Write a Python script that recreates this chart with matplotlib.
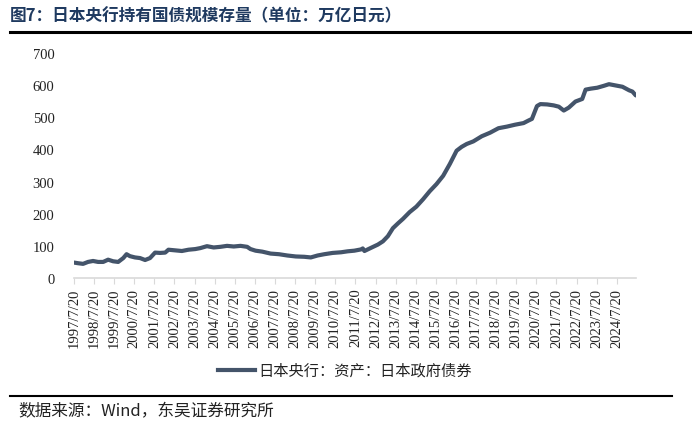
import pandas as pd
import matplotlib
matplotlib.use("Agg")
import matplotlib.pyplot as plt
from matplotlib.lines import Line2D

plt.rcParams['font.family'] = ['Noto Sans CJK SC', 'DejaVu Sans']

# 日本央行持有国债规模（万亿日元）
dates = ["1997-07-20", "1997-10-01", "1998-01-01", "1998-04-01", "1998-07-01", "1998-10-01",
         "1999-01-01", "1999-04-01", "1999-07-01", "1999-10-01", "2000-01-01", "2000-03-01",
         "2000-05-01", "2000-08-01", "2000-11-01", "2001-02-01", "2001-05-01", "2001-08-01",
         "2001-11-01", "2002-02-01", "2002-04-01", "2002-08-01", "2002-12-01", "2003-04-01",
         "2003-08-01", "2003-11-01", "2004-03-01", "2004-07-01", "2004-11-01", "2005-03-01",
         "2005-07-01", "2005-11-01", "2006-03-01", "2006-05-01", "2006-08-01", "2006-12-01",
         "2007-05-01", "2007-10-01", "2008-03-01", "2008-08-01", "2009-01-01", "2009-05-01",
         "2009-09-01", "2010-01-01", "2010-06-01", "2010-11-01", "2011-03-01", "2011-07-01",
         "2011-11-01", "2011-12-01", "2012-01-01", "2012-05-01", "2012-09-01", "2012-12-01",
         "2013-03-01", "2013-06-01", "2013-09-01", "2013-12-01", "2014-04-01", "2014-08-01",
         "2014-12-01", "2015-04-01", "2015-08-01", "2015-12-01", "2016-04-01", "2016-08-01",
         "2016-11-01", "2017-02-01", "2017-06-01", "2017-11-01", "2018-04-01", "2018-09-01",
         "2019-02-01", "2019-07-01", "2019-12-01", "2020-03-01", "2020-05-01", "2020-08-01",
         "2020-10-01", "2021-02-01", "2021-06-01", "2021-09-01", "2021-12-01", "2022-03-01",
         "2022-07-01", "2022-11-01", "2023-01-01", "2023-04-01", "2023-08-01", "2023-12-01",
         "2024-03-01", "2024-07-01", "2024-11-01", "2025-03-01", "2025-05-01", "2025-07-01"]
values = [48, 46, 44, 50, 53, 50,
          50, 57, 52, 50, 62, 74,
          68, 64, 62, 56, 62, 79,
          78, 79, 88, 86, 84, 88,
          90, 93, 99, 95, 97, 100,
          98, 100, 97, 90, 85, 82,
          76, 74, 70, 67, 66, 64,
          70, 74, 78, 80, 83, 85,
          89, 92, 84, 94, 104, 114,
          130, 155, 170, 184, 205, 222,
          245, 270, 292, 318, 355, 396,
          408, 417, 425, 441, 452, 466,
          471, 477, 482, 490, 495, 535,
          541, 540, 537, 533, 521, 530,
          549, 557, 586, 589, 592, 598,
          603, 599, 595, 584, 580, 568]

tick_years = list(range(1997, 2025))
tick_labels = [f"{y}/7/20" for y in tick_years]
series_name = "日本央行：资产：日本政府债券"

x = pd.to_datetime(dates)
ticks = pd.to_datetime([f"{y}-07-20" for y in tick_years])

fig = plt.figure(figsize=(7, 4.31), dpi=100)
ax = fig.add_axes([74 / 700, 1 - 279 / 431, (636 - 74) / 700, (279 - 54) / 431])

line_color = '#44546A'
ax.plot(x, values, color=line_color, lw=3, solid_capstyle='round')

ax.set_xlim(pd.Timestamp("1997-07-20"), pd.Timestamp("2025-07-05"))
ax.set_ylim(0, 700)
ax.set_yticks(range(0, 701, 100))
ax.set_xticks(ticks)
ax.set_xticklabels(tick_labels, rotation=90)

for s in ['top', 'right', 'left']:
    ax.spines[s].set_visible(False)
ax.spines['bottom'].set_color('#d9d9d9')
ax.spines['bottom'].set_linewidth(1.2)
ax.tick_params(axis='both', labelfontfamily='Liberation Serif', labelsize=10.5,
               labelcolor='#222222')
ax.tick_params(axis='y', length=0, pad=14)
ax.tick_params(axis='x', length=4, color='#d9d9d9', pad=3)

# 标题
fig.text(10 / 700, 1 - 16 / 431, "图7：日本央行持有国债规模存量（单位：万亿日元）",
         fontsize=12, fontweight='bold', color='#1F3A60', va='center', ha='left')
fig.add_artist(Line2D([10 / 700, 690 / 700], [1 - 33 / 431, 1 - 33 / 431],
                      color='black', lw=2.2))

# 图例
fig.add_artist(Line2D([218 / 700, 255 / 700], [1 - 371 / 431, 1 - 371 / 431],
                      color=line_color, lw=3))
fig.text(258 / 700, 1 - 371 / 431, series_name, fontsize=11, color='#222222',
         va='center', ha='left')

# 来源
fig.add_artist(Line2D([10 / 700, 672 / 700], [1 - 397 / 431, 1 - 397 / 431],
                      color='black', lw=1.5))
fig.text(18 / 700, 1 - 412 / 431, "数据来源：Wind，东吴证券研究所", fontsize=12,
         color='#222222', va='center', ha='left')

fig.savefig("out.png", dpi=100)
